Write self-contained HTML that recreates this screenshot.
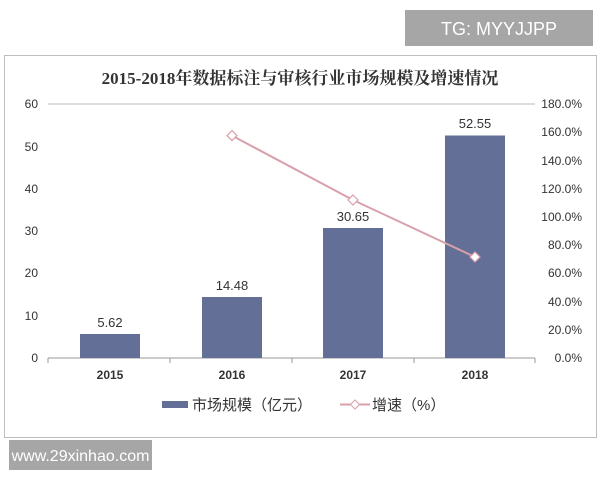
<!DOCTYPE html>
<html><head><meta charset="utf-8"><style>
body{margin:0;width:600px;height:480px;background:#fff;overflow:hidden;font-family:"Liberation Sans","Noto Sans CJK SC",sans-serif;}
</style></head><body>
<svg width="600" height="480" xmlns="http://www.w3.org/2000/svg" font-family="Liberation Sans, Noto Sans CJK SC, sans-serif">
<rect x="405" y="10" width="188" height="36" fill="#a6a6a6"/>
<text x="499" y="35" font-size="18" fill="#fff" text-anchor="middle">TG: MYYJJPP</text>
<rect x="4.5" y="55.5" width="592" height="382" fill="#fff" stroke="#bdbdbd"/>
<text x="300" y="84" font-size="17" font-weight="bold" fill="#333" text-anchor="middle" font-family="Liberation Serif, Noto Serif CJK SC, serif">2015-2018年数据标注与审核行业市场规模及增速情况</text>
<line x1="48" y1="104" x2="535" y2="104" stroke="#bbb"/>
<line x1="48" y1="358" x2="535" y2="358" stroke="#999"/>
<g stroke="#999"><line x1="48" y1="358" x2="48" y2="363"/><line x1="170" y1="358" x2="170" y2="363"/><line x1="292" y1="358" x2="292" y2="363"/><line x1="414" y1="358" x2="414" y2="363"/><line x1="535" y1="358" x2="535" y2="363"/></g>
<g font-size="12" fill="#333" text-anchor="end">
<text x="38" y="108">60</text><text x="38" y="151">50</text><text x="38" y="193">40</text><text x="38" y="235">30</text><text x="38" y="277">20</text><text x="38" y="320">10</text><text x="38" y="362">0</text>
</g>
<g font-size="12" fill="#333" text-anchor="end">
<text x="582" y="108">180.0%</text><text x="582" y="136">160.0%</text><text x="582" y="165">140.0%</text><text x="582" y="193">120.0%</text><text x="582" y="221">100.0%</text><text x="582" y="249">80.0%</text><text x="582" y="277">60.0%</text><text x="582" y="306">40.0%</text><text x="582" y="334">20.0%</text><text x="582" y="362">0.0%</text>
</g>
<g fill="#636f96">
<rect x="80" y="334" width="60" height="24"/>
<rect x="202" y="297" width="60" height="61"/>
<rect x="323" y="228" width="60" height="130"/>
<rect x="445" y="135.5" width="60" height="222.5"/>
</g>
<g font-size="13" fill="#333" text-anchor="middle">
<text x="110" y="327">5.62</text><text x="232" y="290">14.48</text><text x="353" y="221">30.65</text><text x="475" y="128">52.55</text>
</g>
<polyline points="232,135.6 353,200 475,257" fill="none" stroke="#d8a0aa" stroke-width="2"/>
<g fill="#fff" stroke="#d8a0aa" stroke-width="1.2">
<path d="M232,130.6 l5,5 l-5,5 l-5,-5z"/><path d="M353,195 l5,5 l-5,5 l-5,-5z"/><path d="M475,252 l5,5 l-5,5 l-5,-5z"/>
</g>
<g font-size="12" font-weight="bold" fill="#333" text-anchor="middle">
<text x="110" y="379">2015</text><text x="232" y="379">2016</text><text x="353" y="379">2017</text><text x="475" y="379">2018</text>
</g>
<rect x="162" y="401" width="26" height="7" fill="#636f96"/>
<text x="192" y="410" font-size="15" fill="#333">市场规模（亿元）</text>
<line x1="340" y1="404.5" x2="370" y2="404.5" stroke="#d8a0aa" stroke-width="2"/>
<path d="M355,400 l4.5,4.5 l-4.5,4.5 l-4.5,-4.5z" fill="#fff" stroke="#d8a0aa"/>
<text x="372" y="410" font-size="15" fill="#333">增速（%）</text>
<rect x="9" y="440" width="143" height="30" fill="#a6a6a6"/>
<text x="80.5" y="461" font-size="16" fill="#fff" text-anchor="middle">www.29xinhao.com</text>
</svg>
</body></html>
